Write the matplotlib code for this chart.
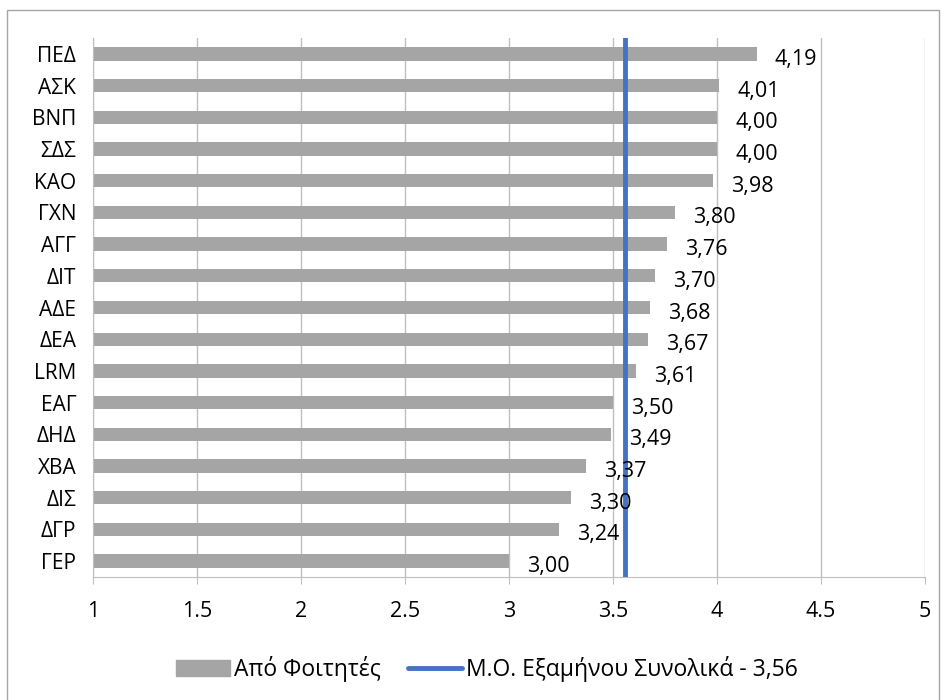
import matplotlib.pyplot as plt
from matplotlib.patches import Rectangle
from matplotlib.lines import Line2D

plt.rcParams['font.family'] = ['Open Sans', 'DejaVu Sans']

courses = ['ΠΕΔ', 'ΑΣΚ', 'ΒΝΠ', 'ΣΔΣ', 'ΚΑΟ', 'ΓΧΝ', 'ΑΓΓ', 'ΔΙΤ', 'ΑΔΕ', 'ΔΕΑ',
           'LRM', 'ΕΑΓ', 'ΔΗΔ', 'ΧΒΑ', 'ΔΙΣ', 'ΔΓΡ', 'ΓΕΡ']
scores = [4.19, 4.01, 4.00, 4.00, 3.98, 3.80, 3.76, 3.70, 3.68, 3.67,
          3.61, 3.50, 3.49, 3.37, 3.30, 3.24, 3.00]
mean_score = 3.56
xticks = [1, 1.5, 2, 2.5, 3, 3.5, 4, 4.5, 5]

fig = plt.figure(figsize=(9.47, 7), dpi=100)
ax = fig.add_axes([93/947, 1 - 577/700, (925-93)/947, (577-38)/700])

# outer chart frame
fig.patches.append(Rectangle((7/947, -0.05), (939-7)/947, 1.05 - 10/700,
                             transform=fig.transFigure, fill=False,
                             edgecolor='#A6A6A6', lw=1))

ypos = list(range(len(courses)))
ax.barh(ypos, scores, height=0.42, color='#A5A5A5', zorder=2)
for y, v in zip(ypos, scores):
    ax.annotate(f'{v:.2f}'.replace('.', ','), (v, y), xytext=(13, -4),
                textcoords='offset points', va='center', ha='left',
                fontsize=15.5, color='black', zorder=4)

ax.axvline(mean_score, color='#4472C4', lw=3.5, zorder=3)

ax.set_xlim(1, 5)
ax.set_ylim(len(courses) - 0.5, -0.5)
ax.set_xticks(xticks)
ax.set_xticklabels([f'{t:g}' for t in xticks], fontsize=15.5)
ax.set_yticks(ypos)
ax.set_yticklabels(courses, fontsize=15)
ax.tick_params(axis='y', length=0, pad=12)
ax.tick_params(axis='x', length=5, color='#BFBFBF', pad=12)
ax.grid(axis='x', color='#BFBFBF', lw=1, zorder=0)
for s in ['top', 'right']:
    ax.spines[s].set_visible(False)
for s in ['left', 'bottom']:
    ax.spines[s].set_color('#BFBFBF')

handles = [Rectangle((0, 0), 1, 1, color='#A5A5A5'),
           Line2D([0], [0], color='#4472C4', lw=3.5, solid_capstyle='round')]
fig.legend(handles, ['Από Φοιτητές', 'Μ.Ο. Εξαμήνου Συνολικά - 3,56'],
           loc='center', bbox_to_anchor=(487/947, 1 - 669/700), ncol=2,
           frameon=False, fontsize=16.5, handlelength=2.35, handletextpad=0.17,
           columnspacing=1.2, borderpad=0)

fig.savefig('out.png', dpi=100)
